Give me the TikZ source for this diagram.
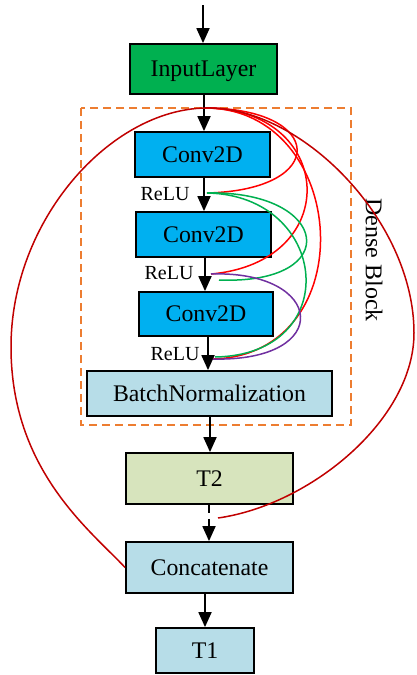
\documentclass[tikz,border=0pt]{standalone}
\usepackage{fontspec}
\setmainfont{Liberation Serif}
\usetikzlibrary{arrows.meta}
\definecolor{cgreen}{HTML}{00B050}
\definecolor{cblue}{HTML}{00B0F0}
\definecolor{clight}{HTML}{B7DDE8}
\definecolor{colive}{HTML}{D7E4BD}
\definecolor{corange}{HTML}{ED7D31}
\definecolor{cred}{HTML}{FF0000}
\definecolor{cdred}{HTML}{C00000}
\definecolor{cpurp}{HTML}{7030A0}
\tikzset{
  box/.style={draw=black, line width=1.8pt, inner sep=0pt, text depth=0pt, font=\fontsize{23.8}{26}\selectfont},
  arr/.style={line width=1.8pt, -{Triangle[length=15pt,width=13pt]}},
  relu/.style={inner sep=0pt, font=\fontsize{20}{22}\selectfont},
  link/.style={line width=1.5pt},
}
\begin{document}
\begin{tikzpicture}[x=1pt,y=-1pt]
\useasboundingbox (0,0) rectangle (416,675);
% dense block frame
\draw[corange, line width=1.8pt, dash pattern=on 8pt off 5pt] (81,108) rectangle (351,425);
\node[rotate=-90, inner sep=0pt, font=\fontsize{24}{26}\selectfont] (dblabel) at (374,260) {Dense Block};
% boxes
\node[box, fill=cgreen, minimum width=147pt, minimum height=50pt] (input) at (203.5,69) {InputLayer};
\node[box, fill=cblue, minimum width=135pt, minimum height=45pt] (conv1) at (202.5,154.5) {Conv2D\hspace{12pt}};
\node[box, fill=cblue, minimum width=135pt, minimum height=45pt] (conv2) at (203.5,234.5) {Conv2D\hspace{12pt}};
\node[box, fill=cblue, minimum width=134pt, minimum height=44pt] (conv3) at (206,314) {Conv2D\hspace{12pt}};
\node[box, fill=clight, minimum width=245pt, minimum height=45pt] (bn) at (209.5,393.5) {BatchNormalization\hspace{11pt}};
\node[box, fill=colive, minimum width=167pt, minimum height=51pt] (t2) at (209.5,478.5) {T2};
\node[box, fill=clight, minimum width=167pt, minimum height=51pt] (concat) at (209.5,567.5) {Concatenate\hspace{7pt}};
\node[box, fill=clight, minimum width=98pt, minimum height=45pt] (t1) at (205,650.5) {T1};
% ReLU labels
\node[relu] (relu1) at (165,194) {ReLU};
\node[relu] (relu2) at (169,273) {ReLU};
\node[relu] (relu3) at (175,354) {ReLU};
% connection points
\coordinate (top) at (203,5);
\coordinate (p0) at (205,108);
\coordinate (r1) at (207,193);
\coordinate (r2) at (211,274);
\coordinate (r2g) at (219,280);
\coordinate (r3) at (213,359);
\coordinate (r3g) at (215,357);
\coordinate (tend) at (218,518);
% arrows
\draw[arr] (top) -- (input.north -| top);
\draw[arr] (input.south -| 204,0) -- (conv1.north -| 204,0);
\draw[arr] (conv1.south -| 204,0) -- (conv2.north -| 204,0);
\draw[arr] (conv2.south -| 205,0) -- (conv3.north -| 205,0);
\draw[arr] (conv3.south -| 208,0) -- (bn.north -| 208,0);
\draw[arr] (bn.south -| 210,0) -- (t2.north -| 210,0);
\draw[arr, dash pattern=on 8pt off 6pt] (t2.south -| 209,0) -- (concat.north -| 209,0);
\draw[arr] (concat.south -| 205,0) -- (t1.north -| 205,0);
% dense links
\draw[link, cred] (p0) .. controls (325,108) and (330,190) .. (r1);
\draw[link, cred] (p0) .. controls (335,108) and (345,262) .. (r2);
\draw[link, cred] (p0) .. controls (350,108) and (365,355) .. (r3);
\draw[link, cgreen] (r1) .. controls (330,190) and (345,285) .. (r2g);
\draw[link, cgreen] (r1) .. controls (330,195) and (345,355) .. (r3g);
\draw[link, cpurp] (r2) .. controls (325,270) and (335,362) .. (r3);
\draw[link, cdred] (p0) .. controls (300,105) and (414,220) .. (414,333) .. controls (414,420) and (310,505) .. (tend);
\draw[link, cdred] (p0) .. controls (110,110) and (11,220) .. (11,347) .. controls (11,470) and (90,530) .. (concat.west);
\end{tikzpicture}
\end{document}
